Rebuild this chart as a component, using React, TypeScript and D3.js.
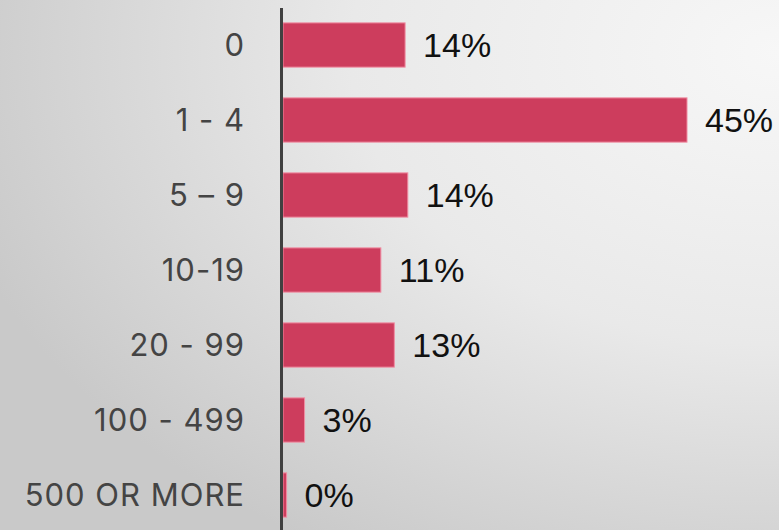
import React from 'react';
import { scaleBand, scaleLinear } from 'd3';

const categories = ['0', '1 - 4', '5 – 9', '10-19', '20 - 99', '100 - 499', '500 OR MORE'];
const shares = [13.6, 45, 13.9, 10.9, 12.4, 2.4, 0.4];
const shareLabels = ['14%', '45%', '14%', '11%', '13%', '3%', '0%'];

const width = 779;
const height = 530;
const axisX = 283;

export default function App() {
  const y = scaleBand<string>()
    .domain(categories)
    .range([7.5, 532.5])
    .paddingInner(0.41)
    .paddingOuter(0.205);

  const x = scaleLinear().domain([0, 45]).range([axisX, 687]);

  return (
    <svg
      width={width}
      height={height}
      style={{ position: 'absolute', left: 0, top: 0 }}
    >
      <defs>
        <radialGradient id="bg" cx="1" cy="0.1" r="1.1" fx="1" fy="0.1">
          <stop offset="0" stopColor="#f7f7f7" />
          <stop offset="0.5" stopColor="#e9e9e9" />
          <stop offset="1" stopColor="#c9c9c9" />
        </radialGradient>
      </defs>
      <rect width={width} height={height} fill="url(#bg)" />

      {categories.map((c, i) => (
        <g key={c}>
          <rect
            x={x(0)}
            y={y(c)}
            width={Math.max(x(shares[i]) - x(0), 2)}
            height={y.bandwidth()}
            fill="#cd3d5d"
            stroke="#f08ca2"
            strokeWidth={1}
          />
          <text
            x={245}
            y={y(c)! + y.bandwidth() / 2}
            dy="0.36em"
            textAnchor="end"
            fontFamily="Inter, 'Open Sans', sans-serif"
            fontSize={31}
            letterSpacing={1}
            fill="#444"
          >
            {c}
          </text>
          <text
            x={x(shares[i]) + 18}
            y={y(c)! + y.bandwidth() / 2}
            dy="0.36em"
            fontFamily="'Liberation Sans', Arial, sans-serif"
            fontSize={34}
            fill="#111"
          >
            {shareLabels[i]}
          </text>
        </g>
      ))}

      <line x1={281.5} x2={281.5} y1={8} y2={height} stroke="#404040" strokeWidth={3} />
    </svg>
  );
}
